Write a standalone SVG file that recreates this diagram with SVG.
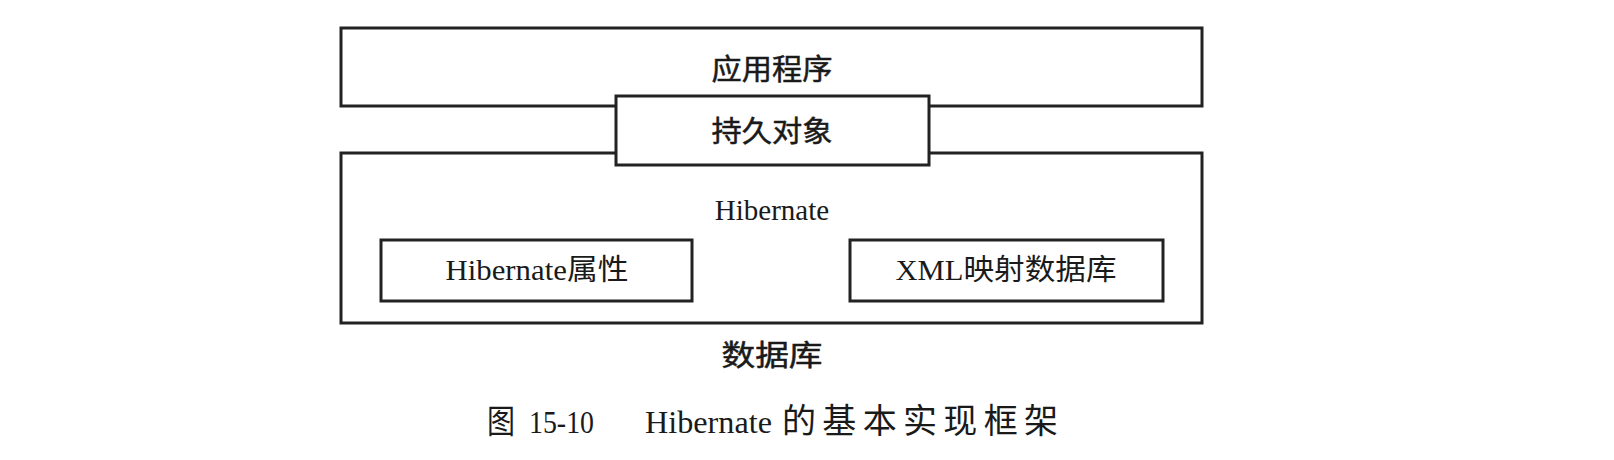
<svg xmlns="http://www.w3.org/2000/svg" width="1614" height="460" viewBox="0 0 1614 460">
<style>
.box{fill:#fff;stroke:#222;stroke-width:3}
.cjk{font-family:"Noto Sans CJK SC",sans-serif;font-size:29px;font-weight:normal;stroke:#1a1a1a;stroke-width:0.5;fill:#1a1a1a;text-anchor:middle}
.lat{font-family:"Liberation Serif","Noto Sans CJK SC",serif;font-size:29px;fill:#1a1a1a;text-anchor:middle}
.cap{font-family:"Liberation Serif","Noto Sans CJK SC",serif;font-size:31px;fill:#1a1a1a}
</style>
<rect width="1614" height="460" fill="#fff"/>
<g id="app">
<rect class="box" x="341" y="28" width="861" height="78"/>
<text class="cjk" x="772" y="80" textLength="121" lengthAdjust="spacingAndGlyphs">应用程序</text>
</g>
<g id="hibernate">
<rect class="box" x="341" y="153" width="861" height="170"/>
<text class="lat" x="772" y="220" font-size="31">Hibernate</text>
</g>
<g id="persist">
<rect class="box" x="616" y="96" width="313" height="69"/>
<text class="cjk" x="772" y="142" textLength="121" lengthAdjust="spacingAndGlyphs">持久对象</text>
</g>
<g id="props">
<rect class="box" x="381" y="240" width="311" height="61"/>
<text class="lat" x="537" y="280" textLength="183" lengthAdjust="spacingAndGlyphs">Hibernate属性</text>
</g>
<g id="xml">
<rect class="box" x="850" y="240" width="313" height="61"/>
<text class="lat" x="1006" y="280" textLength="221" lengthAdjust="spacingAndGlyphs">XML映射数据库</text>
</g>
<g id="db">
<text class="cjk" x="772" y="366" font-size="31" textLength="101" lengthAdjust="spacingAndGlyphs">数据库</text>
</g>
<g id="connectors"></g>
<g id="caption" class="cap">
<text x="487" y="433" font-size="33" textLength="28" lengthAdjust="spacingAndGlyphs">图</text>
<text x="529" y="433" textLength="65" lengthAdjust="spacingAndGlyphs">15-10</text>
<text x="645" y="433" textLength="127" lengthAdjust="spacingAndGlyphs">Hibernate</text>
<text x="782" y="433" font-size="34" textLength="276" lengthAdjust="spacing">的基本实现框架</text>
</g>
</svg>
